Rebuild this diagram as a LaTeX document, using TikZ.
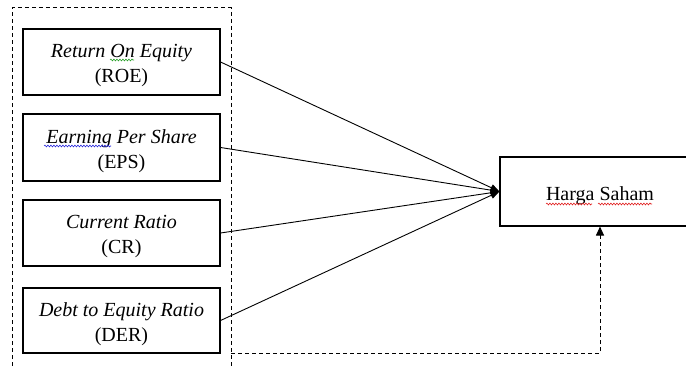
\documentclass[tikz,border=0pt]{standalone}
\usepackage{fontspec}
\setmainfont{Liberation Serif}
\usetikzlibrary{arrows.meta,decorations.pathmorphing}
\definecolor{wgreen}{RGB}{40,160,40}
\definecolor{wblue}{RGB}{40,40,220}
\definecolor{wred}{RGB}{225,30,30}
\newcommand\firstline{\rule{0pt}{21pt}}
\tikzset{
  varbox/.style={draw, line width=1.1pt, minimum width=197pt, inner sep=0pt, align=center,
    font=\fontsize{20}{25}\selectfont},
  link/.style={line width=0.9pt, -{Triangle[length=9pt,width=7pt]}},
  dashline/.style={line width=1pt, dash pattern=on 4pt off 3pt},
  squiggle/.style={line width=0.6pt, decorate, decoration={snake, amplitude=0.9pt, segment length=3pt}},
}
\begin{document}
\begin{tikzpicture}[x=1pt,y=-1pt]
\useasboundingbox (0,0) rectangle (686,369);
\clip (0,0) rectangle (686,369);
\fill[white] (0,0) rectangle (686,369);
% outer dashed group
\coordinate (gbl) at (12,380);
\coordinate (gtl) at (12,8);
\coordinate (gtr) at (231,8);
\coordinate (gbr) at (231,380);
\coordinate (gout) at (231,353);
\draw[dashline] (gbl) -- (gtl) -- (gtr) -- (gbr);
% variable boxes
\node[varbox, minimum height=66pt] (roe) at (121.5,62) {\firstline\textit{Return On Equity}\\(ROE)};
\node[varbox, minimum height=67pt] (eps) at (121.5,147.5) {\firstline\textit{Earning Per Share}\\(EPS)};
\node[varbox, minimum height=66pt] (cr) at (121.5,233) {\firstline\textit{Current Ratio}\\(CR)};
\node[varbox, minimum height=65pt] (der) at (121.5,320.5) {\firstline\textit{Debt to Equity Ratio}\\(DER)};
% dependent box
\node[draw, line width=1.1pt, minimum width=200pt, minimum height=69pt, inner sep=0pt,
  font=\fontsize{20}{25}\selectfont, text height=23pt, text depth=4.5pt]
  (harga) at (600,191.5) {Harga Saham};
% spelling marks
\draw[squiggle, wgreen] (110,60) -- (134,60);
\draw[squiggle, wblue] (44,146) -- (111,146);
\draw[squiggle, wred] (546,204) -- (592,204);
\draw[squiggle, wred] (598,204) -- (652,204);
% connectors
\draw[link] (roe.east) -- (harga.west);
\draw[link] (eps.east) -- (harga.west);
\draw[link] (cr.east) -- (harga.west);
\draw[link] (der.east) -- (harga.west);
\draw[dashline, -{Triangle[length=9pt,width=8pt]}] (gout) -| (harga.south);
\end{tikzpicture}
\end{document}
